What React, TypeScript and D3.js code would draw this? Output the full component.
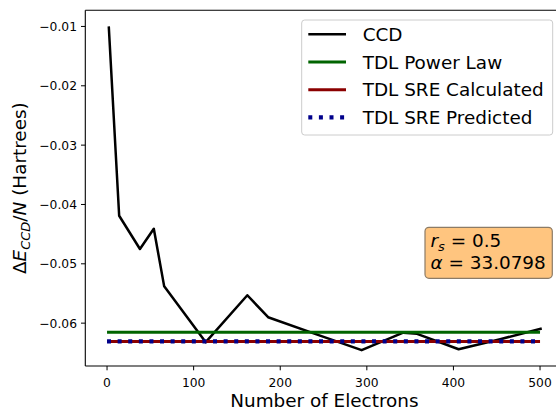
import React from "react";
import * as d3 from "d3";

const electrons = [2, 14, 38, 54, 66, 114, 162, 186, 246, 294, 342, 358, 406, 454, 502];
const ccd = [-0.01, -0.0419, -0.0475, -0.0441, -0.0538, -0.0632, -0.0553, -0.059, -0.0621, -0.06455, -0.0616, -0.0618, -0.0644, -0.0627, -0.0609];
const tdlPowerLaw = -0.06152;
const tdlSreCalculated = -0.06308;
const tdlSrePredicted = -0.06308;
const hlineRange = [0, 500];
const xTicks = [0, 100, 200, 300, 400, 500];
const yTicks = [-0.06, -0.05, -0.04, -0.03, -0.02, -0.01];
const legendLabels = ["CCD", "TDL Power Law", "TDL SRE Calculated", "TDL SRE Predicted"];
const rsValue = "0.5";
const alphaValue = "33.0798";

const W = 556;
const H = 410;
const left = 85.3;
const right = 563.5;
const top = 10.3;
const bottom = 366;
const FONT = "DejaVu Sans, sans-serif";

export default function App() {
  const x = d3.scaleLinear().domain([-25.1, 527.1]).range([left, right]);
  const y = d3.scaleLinear().domain([-0.06722, -0.00728]).range([bottom, top]);
  const line = d3
    .line<[number, number]>()
    .x((d) => x(d[0]))
    .y((d) => y(d[1]));
  const ccdPts: [number, number][] = electrons.map((e, i) => [e, ccd[i]]);
  const hl = (v: number) =>
    line([
      [hlineRange[0], v],
      [hlineRange[1], v],
    ]) || "";
  const fmt = (v: number) => (v < 0 ? "\u2212" : "") + Math.abs(v).toFixed(2);

  const legendStyles = [
    { stroke: "#000000", width: 2.5, dash: undefined as string | undefined },
    { stroke: "#006400", width: 3, dash: undefined },
    { stroke: "#8b0000", width: 3, dash: undefined },
    { stroke: "#00008b", width: 4.2, dash: "4 6.6" },
  ];
  const legX0 = 301.7;
  const legY0 = 20;
  const rowY = (i: number) => 34.3 + i * 27.7;

  return (
    <div style={{ position: "absolute", left: 0, top: 0 }}>
      <svg width={W} height={H} style={{ display: "block", background: "#fff" }} fontFamily={FONT}>
        <rect x={0} y={0} width={W} height={H} fill="#fff" />
        <defs>
          <clipPath id="axclip">
            <rect x={left} y={top} width={right - left} height={bottom - top} />
          </clipPath>
        </defs>
        <g clipPath="url(#axclip)">
          <path d={line(ccdPts) || ""} fill="none" stroke="#000" strokeWidth={2.5} strokeLinejoin="round" />
          <path d={hl(tdlPowerLaw)} fill="none" stroke="#006400" strokeWidth={3} />
          <path d={hl(tdlSreCalculated)} fill="none" stroke="#8b0000" strokeWidth={3} />
          <path d={hl(tdlSrePredicted)} fill="none" stroke="#00008b" strokeWidth={4.2} strokeDasharray="4 6.6" />
        </g>
        {/* spines */}
        <g stroke="#000" strokeWidth={1.1} fill="none">
          <line x1={left} y1={top} x2={left} y2={bottom} />
          <line x1={left} y1={bottom} x2={right} y2={bottom} />
          <line x1={left} y1={top} x2={right} y2={top} />
          <line x1={right} y1={top} x2={right} y2={bottom} />
        </g>
        {/* x ticks */}
        {xTicks.map((t) => (
          <g key={"x" + t}>
            <line x1={x(t)} x2={x(t)} y1={bottom} y2={bottom + 4.3} stroke="#000" strokeWidth={1} />
            <text x={x(t)} y={386.5} textAnchor="middle" fontSize={12.3} fill="#000">
              {t}
            </text>
          </g>
        ))}
        {/* y ticks */}
        {yTicks.map((t) => (
          <g key={"y" + t}>
            <line x1={left - 4.3} x2={left} y1={y(t)} y2={y(t)} stroke="#000" strokeWidth={1} />
            <text x={77} y={y(t)} dy="0.36em" textAnchor="end" fontSize={12.3} fill="#000">
              {fmt(t)}
            </text>
          </g>
        ))}
        {/* axis labels */}
        <text x={(left + right) / 2} y={407} textAnchor="middle" fontSize={18.4} fill="#000">
          Number of Electrons
        </text>
        <text
          transform={`translate(26, ${(top + bottom) / 2}) rotate(-90)`}
          textAnchor="middle"
          fontSize={18.4}
          fill="#000"
        >
          <tspan>Δ</tspan>
          <tspan fontStyle="italic">E</tspan>
          <tspan fontStyle="italic" fontSize={13} dy={3.5}>
            CCD
          </tspan>
          <tspan dy={-3.5}>/</tspan>
          <tspan fontStyle="italic">N</tspan>
          <tspan> (Hartrees)</tspan>
        </text>
        {/* legend */}
        <rect
          x={legX0}
          y={legY0}
          width={552.7 - legX0}
          height={135 - legY0}
          rx={3}
          fill="#fff"
          fillOpacity={0.8}
          stroke="#cccccc"
          strokeWidth={1}
        />
        {legendLabels.map((lab, i) => (
          <g key={lab}>
            <line
              x1={308.3}
              x2={346}
              y1={rowY(i)}
              y2={rowY(i)}
              stroke={legendStyles[i].stroke}
              strokeWidth={legendStyles[i].width}
              strokeDasharray={legendStyles[i].dash}
            />
            <text x={362.7} y={rowY(i) + 6.7} fontSize={18.4} fill="#000">
              {lab}
            </text>
          </g>
        ))}
        {/* annotation box */}
        <rect
          x={425}
          y={227.3}
          width={552.3 - 425}
          height={278.3 - 227.3}
          rx={4}
          fill="#ffc57f"
          stroke="#8c7b66"
          strokeWidth={1.2}
        />
        <text x={430.5} y={247.3} fontSize={18.4} fill="#000">
          <tspan fontStyle="italic">r</tspan>
          <tspan fontStyle="italic" fontSize={13} dy={3.5}>
            s
          </tspan>
          <tspan dy={-3.5}>{" = " + rsValue}</tspan>
        </text>
        <text x={430.5} y={269} fontSize={18.4} fill="#000">
          <tspan fontStyle="italic">α</tspan>
          <tspan>{" = " + alphaValue}</tspan>
        </text>
      </svg>
    </div>
  );
}
